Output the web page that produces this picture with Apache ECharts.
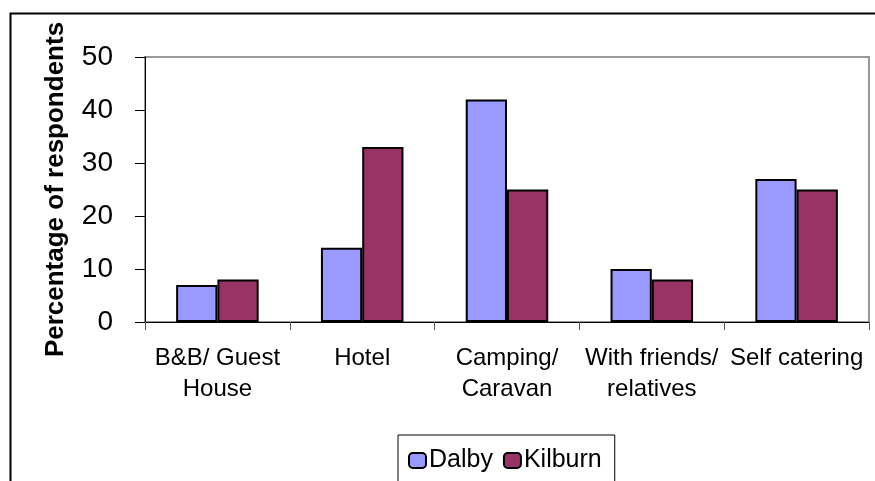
<!DOCTYPE html>
<html>
<head>
<meta charset="utf-8">
<script src="https://cdn.jsdelivr.net/npm/echarts@6/dist/echarts.min.js"></script>
<style>
html,body{margin:0;padding:0;background:#fff;}
#chart{width:875px;height:481px;}
</style>
</head>
<body>
<div id="chart"></div>
<script>
const categories = ['B&B/ Guest\nHouse', 'Hotel', 'Camping/\nCaravan', 'With friends/\nrelatives', 'Self catering'];
const dalby = [7, 14, 42, 10, 27];
const kilburn = [8, 33, 25, 8, 25];
const yTicks = { min: 0, max: 50, interval: 10 };
const yAxisTitle = 'Percentage of respondents';
const chartTitle = 'Type of accommodation';

const FONT = '"Liberation Sans", Arial, sans-serif';
const chart = echarts.init(document.getElementById('chart'), null, { renderer: 'canvas' });
chart.setOption({
  backgroundColor: '#fff',
  animation: false,
  graphic: [
    { type: 'rect', left: 8, top: 11, z: 0, silent: true,
      shape: { width: 900, height: 500 },
      style: { fill: 'none', stroke: '#000', lineWidth: 2 } },
    { type: 'text', x: 38, y: 0, z: 10,
      style: { text: chartTitle, font: 'bold 24px ' + FONT, fill: '#000', verticalAlign: 'bottom' } }
  ],
  grid: { left: 145, right: 6, top: 57, bottom: 159, show: true, borderColor: '#999', borderWidth: 2, backgroundColor: '#fff' },
  legend: {
    left: 398, top: 435,
    orient: 'horizontal',
    borderColor: '#000', borderWidth: 1,
    padding: [13, 13, 20, 10],
    itemWidth: 17, itemHeight: 15, itemGap: 10,
    textStyle: { fontFamily: FONT, fontSize: 25, color: '#000', padding: [0, 0, 0, -2] },
    data: ['Dalby', 'Kilburn']
  },
  xAxis: {
    type: 'category',
    data: categories,
    axisLine: { lineStyle: { color: '#000', width: 1 } },
    axisTick: { show: true, length: 8, lineStyle: { color: '#555' } },
    axisLabel: { fontFamily: FONT, fontSize: 24, color: '#000', margin: 21, lineHeight: 31, interval: 0 },
    splitLine: { show: false }
  },
  yAxis: {
    type: 'value',
    min: yTicks.min, max: yTicks.max, interval: yTicks.interval,
    name: yAxisTitle,
    nameLocation: 'middle',
    nameGap: 76,
    nameTextStyle: { fontFamily: FONT, fontSize: 26, fontWeight: 'bold', color: '#000' },
    axisLine: { show: true, lineStyle: { color: '#000', width: 1 } },
    axisTick: { show: true, length: 10, lineStyle: { color: '#000' } },
    axisLabel: { fontFamily: FONT, fontSize: 28, color: '#000', margin: 32 },
    splitLine: { show: false }
  },
  series: [
    { name: 'Dalby', type: 'bar', data: dalby, barGap: '0%', barCategoryGap: '43%',
      itemStyle: { color: '#9999FF', borderColor: '#000', borderWidth: 2 } },
    { name: 'Kilburn', type: 'bar', data: kilburn,
      itemStyle: { color: '#993366', borderColor: '#000', borderWidth: 2 } }
  ]
});
</script>
</body>
</html>
